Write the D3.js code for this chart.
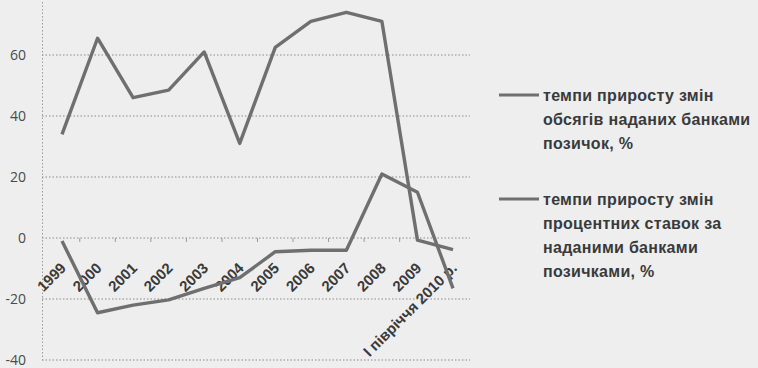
<!DOCTYPE html>
<html>
<head>
<meta charset="utf-8">
<script src="https://cdn.jsdelivr.net/npm/d3@7"></script>
<style>
  body { margin: 0; background: #eeeeee; }
  svg { display: block; font-family: 'Liberation Sans', Arial, sans-serif; }
</style>
</head>
<body>
<script>
const width = 758
const height = 368

const categories = ['1999', '2000', '2001', '2002', '2003', '2004', '2005',
  '2006', '2007', '2008', '2009', 'І півріччя 2010 р.']
// темпи приросту змін обсягів наданих банками позичок, %
const loans = [34, 65.5, 46, 48.5, 61, 31, 62.5, 71, 74, 71, -0.7, -3.8]
// темпи приросту змін процентних ставок за наданими банками позичками, %
const rates = [-1, -24.5, -22, -20.3, -16.5, -13, -4.5, -4, -4, 21, 15, -16.5]
const yTicks = [-40, -20, 0, 20, 40, 60]

const legendItems = [
  ['темпи приросту змін', 'обсягів наданих банками', 'позичок, %'],
  ['темпи приросту змін', 'процентних ставок за', 'наданими банками', 'позичками, %']
]

const ink = '#3a3a3a'
const lineColor = '#6f6f6f'

const svg = d3.select('body').append('svg')
  .attr('width', width)
  .attr('height', height)

const x = d3.scalePoint()
  .domain(categories)
  .range([62, 453])

const y = d3.scaleLinear()
  .domain([-40, 80])
  .range([360, -6])

const plotLeft = 42
const plotRight = 470

// gridlines
svg.append('g')
  .selectAll('line')
  .data(yTicks)
  .join('line')
  .attr('x1', plotLeft)
  .attr('x2', plotRight)
  .attr('y1', d => y(d))
  .attr('y2', d => y(d))
  .attr('stroke', '#8a8a8a')
  .attr('stroke-width', 1)
  .attr('stroke-dasharray', '1.5,2')

// y axis
const yAxis = svg.append('g')
  .attr('transform', `translate(${plotLeft},0)`)
  .call(d3.axisLeft(y).tickValues(yTicks).tickFormat(d => String(d))
    .tickSize(0).tickPadding(16))
yAxis.select('.domain')
  .attr('stroke', '#9a9a9a')
  .attr('stroke-dasharray', '1.5,2')
yAxis.selectAll('text')
  .attr('font-size', 14)
  .attr('fill', '#4a4a4a')
  .attr('font-family', "'Open Sans', sans-serif")

// small category separators on the zero line
const step = x.step()
svg.append('g')
  .selectAll('line')
  .data(categories.slice(0, -1))
  .join('line')
  .attr('x1', d => x(d) + step / 2)
  .attr('x2', d => x(d) + step / 2)
  .attr('y1', y(0))
  .attr('y2', y(0) + 4)
  .attr('stroke', '#9a9a9a')

// category labels
svg.append('g')
  .selectAll('text')
  .data(categories)
  .join('text')
  .attr('transform', d => `translate(${x(d) + 5},${y(0) + 31}) rotate(-45)`)
  .attr('text-anchor', 'end')
  .attr('font-size', 15)
  .attr('font-weight', 'bold')
  .attr('fill', ink)
  .text(d => d)

// series lines
const line = d3.line()
  .x((d, i) => x(categories[i]))
  .y(d => y(d))

svg.selectAll('path.series')
  .data([loans, rates])
  .join('path')
  .attr('class', 'series')
  .attr('d', line)
  .attr('fill', 'none')
  .attr('stroke', lineColor)
  .attr('stroke-width', 3.4)
  .attr('stroke-linejoin', 'round')

// legend
const legendTop = [95, 199]
const legend = svg.append('g')
legendItems.forEach((lines, k) => {
  const g = legend.append('g')
  g.append('line')
    .attr('x1', 499)
    .attr('x2', 539)
    .attr('y1', legendTop[k])
    .attr('y2', legendTop[k])
    .attr('stroke', lineColor)
    .attr('stroke-width', 3)
  g.selectAll('text')
    .data(lines)
    .join('text')
    .attr('x', 543)
    .attr('y', (d, i) => legendTop[k] + i * 24)
    .attr('dy', '0.35em')
    .attr('font-size', 16)
    .attr('font-weight', 'bold')
    .attr('letter-spacing', 0.3)
    .attr('fill', ink)
    .text(d => d)
})
</script>
</body>
</html>
